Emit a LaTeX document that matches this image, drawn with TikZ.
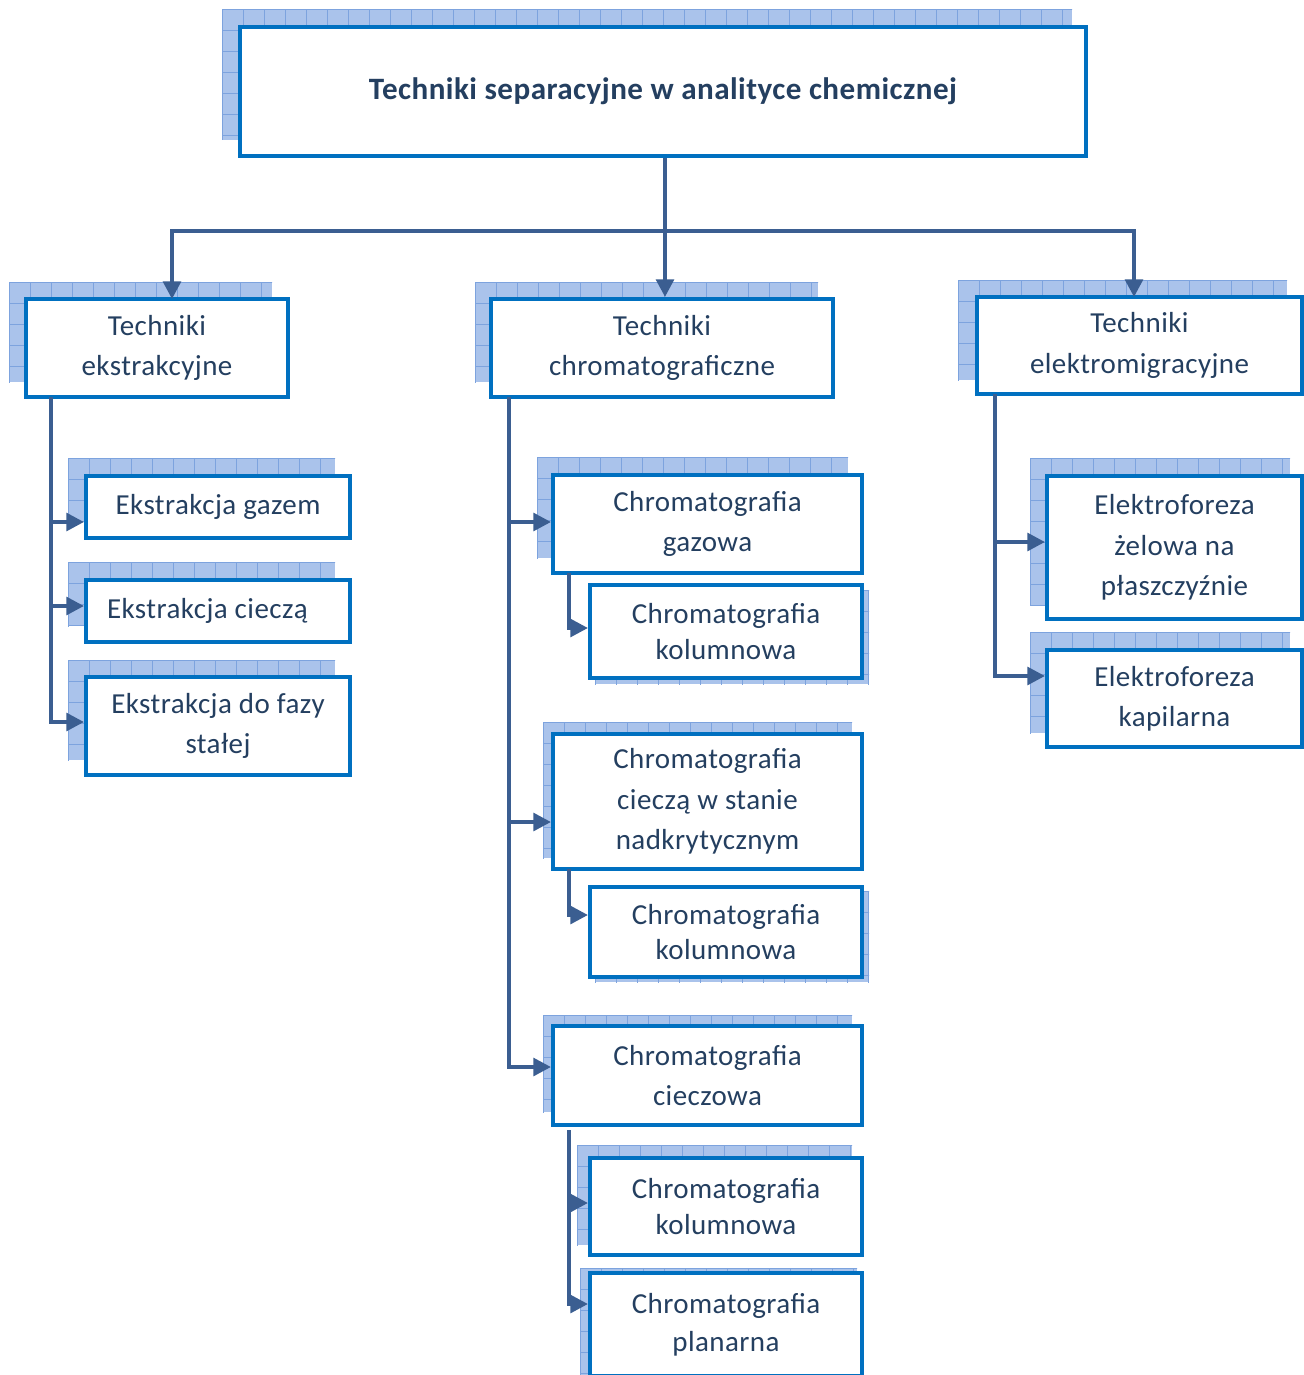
\documentclass[tikz,border=0pt]{standalone}
\usepackage{fontspec}
\setmainfont{Carlito}[LetterSpace=1.5]
\usetikzlibrary{arrows.meta}
\definecolor{boxblue}{HTML}{0070C0}
\definecolor{linecol}{HTML}{3B5E91}
\definecolor{txtcol}{HTML}{243F60}
\definecolor{shfill}{HTML}{AAC3EB}
\definecolor{shgrid}{HTML}{7DA3DE}
\tikzset{
  box/.style={draw=boxblue, line width=2.3pt, fill=white, inner sep=0pt, align=center,
    text=txtcol, font=\fontsize{16.5}{23}\selectfont},
  tightbox/.style={box, font=\fontsize{16.5}{20.4}\selectfont},
  planbox/.style={box, font=\fontsize{16.5}{21.5}\selectfont},
  titlebox/.style={box, font=\fontsize{17.7}{23}\selectfont\bfseries},
  conn/.style={draw=linecol, line width=2.2pt},
  arr/.style={conn, -{Triangle[length=10pt,width=10pt]}},
  shgridline/.style={draw=shgrid, line width=0.4pt},
}
% shadow: x1 y1 x2 y2 (pixel coords, y downward)
\newcommand\gshadow[4]{%
  \fill[shfill] (#1,-#2) rectangle (#3,-#4);
  \begin{scope}
    \clip (#1,-#2) rectangle (#3,-#4);
    \draw[shgridline, shift={(#1,-#2)}, step=21] (0,0) grid (900,-220);
  \end{scope}
}
% box: [style] name x1 y1 x2 y2 text
\newcommand\bx[7][box]{%
  \node[#1, minimum width={(#5-#3)*0.02cm}, minimum height={(#6-#4)*0.02cm}]
    (#2) at ({(#3+#5)/2},{-(#4+#6)/2}) {#7};}
\begin{document}
\begin{tikzpicture}[x=0.02cm, y=0.02cm]
\useasboundingbox (0,0) rectangle (1304,-1375);
% shadows
\gshadow{222}{9}{1072}{140}
\gshadow{9}{282}{272}{382}
\gshadow{475}{282}{818}{382}
\gshadow{958}{280}{1287}{380}
\gshadow{68}{458}{335}{522}
\gshadow{68}{562}{335}{626}
\gshadow{68}{660}{335}{760}
\gshadow{537}{457}{848}{558}
\gshadow{595}{590}{869}{684}
\gshadow{543}{722}{852}{858}
\gshadow{595}{891}{869}{982}
\gshadow{543}{1015}{852}{1112}
\gshadow{577}{1145}{852}{1245}
\gshadow{580}{1268}{857}{1390}
\gshadow{1030}{458}{1290}{605}
\gshadow{1030}{632}{1290}{733}
% boxes
\bx[titlebox]{title}{240}{27}{1086}{156}{Techniki separacyjne w analityce chemicznej}
\bx{tek}{26}{299}{288}{397}{Techniki\\ekstrakcyjne}
\bx{tch}{491}{299}{833}{397}{Techniki\\chromatograficzne}
\bx{tel}{977}{297}{1302}{394}{Techniki\\elektromigracyjne}
\bx{eg}{86}{476}{350}{538}{Ekstrakcja gazem}
\bx{ec}{86}{580}{350}{642}{Ekstrakcja cieczą\hspace*{12pt}}
\bx{es}{86}{677}{350}{775}{Ekstrakcja do fazy\\stałej}
\bx{cg}{553}{475}{862}{573}{Chromatografia\\gazowa}
\bx[tightbox]{ck1}{590}{585}{862}{678}{Chromatografia\\kolumnowa}
\bx{cn}{553}{734}{862}{869}{Chromatografia\\cieczą w stanie\\nadkrytycznym}
\bx[tightbox]{ck2}{590}{887}{862}{977}{Chromatografia\\kolumnowa}
\bx{cc}{553}{1026}{862}{1125}{Chromatografia\\cieczowa}
\bx[tightbox]{ck3}{590}{1158}{862}{1255}{Chromatografia\\kolumnowa}
\bx[planbox]{cp}{590}{1273}{862}{1376}{Chromatografia\\planarna}
\bx{ez}{1047}{476}{1302}{619}{Elektroforeza\\żelowa na\\płaszczyźnie}
\bx{ek}{1047}{650}{1302}{747}{Elektroforeza\\kapilarna}
% junction coordinates
\coordinate (hub) at (665,-231);
\coordinate (tekin) at (172,-299);
\coordinate (telin) at (1134,-297);
\coordinate (lt) at (51,-397);
\coordinate (mt) at (509,-397);
\coordinate (rt) at (995,-394);
\coordinate (s1) at (569,-573);
\coordinate (s2) at (569,-869);
\coordinate (s3) at (569,-1130);
\coordinate (y1) at (0,-522);
\coordinate (y2) at (0,-606);
\coordinate (y3) at (0,-722);
\coordinate (y4) at (0,-522);
\coordinate (y5) at (0,-822);
\coordinate (y6) at (0,-1067);
\coordinate (y7) at (0,-628);
\coordinate (y8) at (0,-915);
\coordinate (y9) at (0,-1203);
\coordinate (y10) at (0,-1304);
\coordinate (y11) at (0,-542);
\coordinate (y12) at (0,-676);
% connectors
\draw[conn] (title.south -| hub) -- (hub);
\draw[arr] (hub) -| (tekin);
\draw[arr] (hub) -- (hub |- tch.north);
\draw[arr] (hub) -| (telin);
\draw[arr] (lt) |- (eg.west |- y1);
\draw[arr] (lt) |- (ec.west |- y2);
\draw[arr] (lt) |- (es.west |- y3);
\draw[arr] (mt) |- (cg.west |- y4);
\draw[arr] (mt) |- (cn.west |- y5);
\draw[arr] (mt) |- (cc.west |- y6);
\draw[arr] (s1) |- (ck1.west |- y7);
\draw[arr] (s2) |- (ck2.west |- y8);
\draw[arr] (s3) |- (ck3.west |- y9);
\draw[arr] (s3) |- (cp.west |- y10);
\draw[arr] (rt) |- (ez.west |- y11);
\draw[arr] (rt) |- (ek.west |- y12);
\end{tikzpicture}
\end{document}
